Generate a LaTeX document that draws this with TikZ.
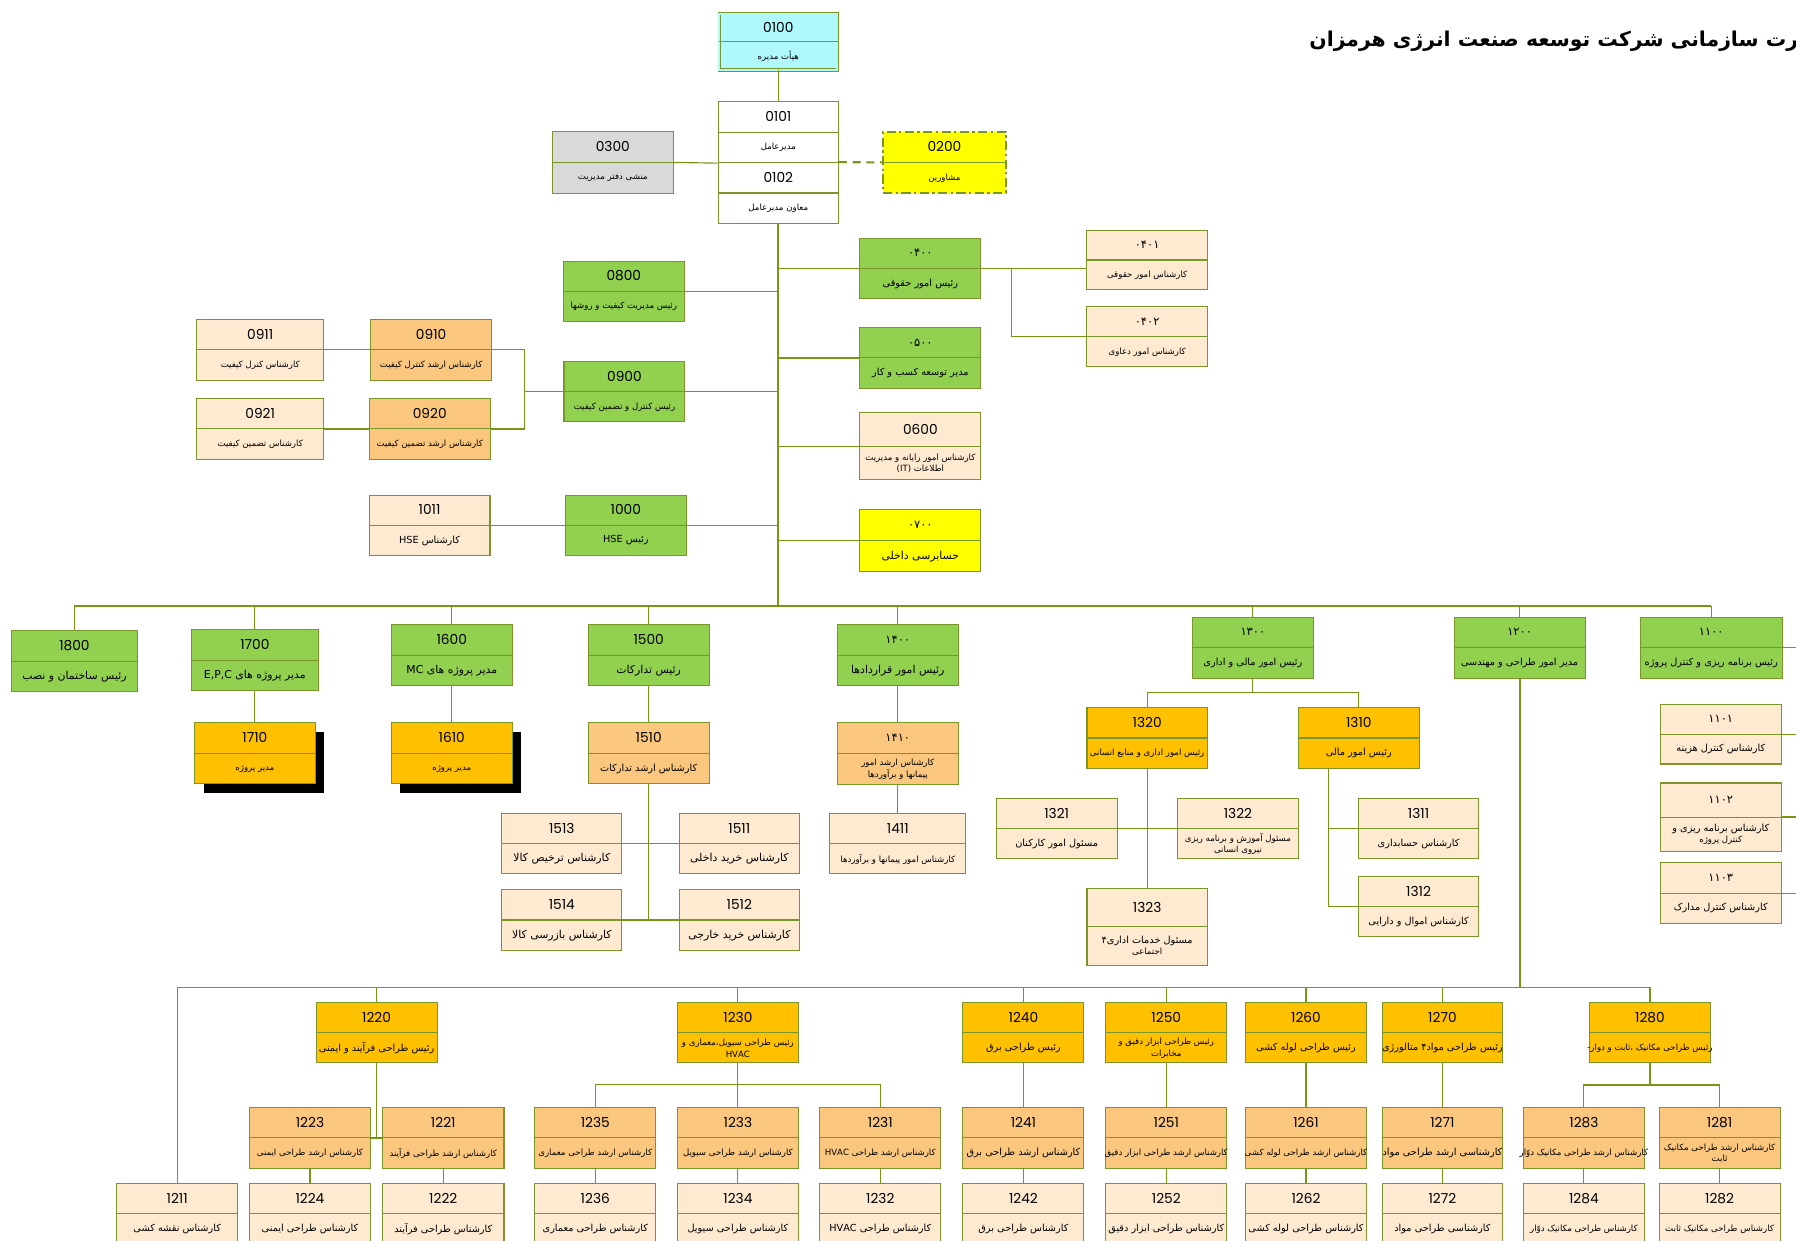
\documentclass[tikz,border=0pt]{standalone}
\usepackage{fontspec}
\usepackage{tikz}
\usetikzlibrary{calc,shadows}
\newfontfamily\fa[Script=Arabic]{DejaVu Sans}
\newfontfamily\numfont{Poppins}
\TeXXeTstate=1

\definecolor{boxedge}{RGB}{122,150,40}
\definecolor{linkgreen}{RGB}{118,150,20}
\definecolor{boxgreen}{RGB}{146,208,80}
\definecolor{boxamber}{RGB}{255,192,0}
\definecolor{boxorange}{RGB}{251,199,126}
\definecolor{boxcream}{RGB}{253,234,209}
\definecolor{boxcyan}{RGB}{175,248,252}
\definecolor{boxgrey}{RGB}{217,217,217}
\definecolor{boxyellow}{RGB}{255,255,0}

\newcommand{\rtl}[1]{\beginR #1\endR}
\newcommand{\facode}[1]{{\fa\fontsize{10}{12}\selectfont #1}}
\newcommand{\bigrole}{\fontsize{9.5}{12}\selectfont}
\newcommand{\midrole}{\fontsize{8.5}{11}\selectfont}
% box with a code on top and a post below
\newcommand{\orgbox}[7][]{%
  \node[unitbox, minimum width=#4, minimum height=#5, #1] (#2) at (#3) {};
  \draw[splitline] (#2.west) -- (#2.east);
  \node[codetext] at ($(#2.center)!0.5!(#2.north)$) {#6};
  \node[roletext] at ($(#2.center)!0.5!(#2.south)$) {#7};
}

\begin{document}
\begin{tikzpicture}[x=1pt, y=-1pt,
  unitbox/.style={draw=boxedge, line width=0.9pt, fill=boxcream, inner sep=0pt},
  splitline/.style={draw=boxedge, line width=0.9pt},
  codetext/.style={font=\numfont\fontsize{12}{14}\selectfont, inner sep=0pt},
  roletext/.style={font=\fa\fontsize{7.5}{10}\selectfont, align=center, inner sep=0pt},
  link/.style={draw=linkgreen, line width=1pt},
  bus/.style={draw=linkgreen, line width=1.6pt},
  headfill/.style={fill=boxgreen},
  leadfill/.style={fill=boxamber},
  seniorfill/.style={fill=boxorange},
  advisor/.style={dash pattern=on 8pt off 3pt on 2pt off 3pt, line width=1.6pt},
  pshadow/.style={drop shadow={shadow xshift=8pt, shadow yshift=-8pt, fill=black, opacity=1}}]
  \useasboundingbox (0,0) rectangle (1568,1083);

  % title
  \node[font=\fa\bfseries\fontsize{17.8}{21}\selectfont, anchor=east, inner sep=0pt] (title) at (1570,36) {\rtl{رت سازمانی شرکت توسعه صنعت انرژی هرمزان}};

  % board and management
  \orgbox[fill=boxcyan, double=boxcyan, double distance=1.6pt, line width=0.7pt]{b0100}{679.5,36.5}{103}{49}{0100}{\rtl{هیأت مدیره}}
  \orgbox[fill=white]{b0101}{679.5,115.5}{105}{53}{0101}{\rtl{مدیرعامل}}
  \orgbox[fill=white]{b0102}{679.5,168.5}{105}{53}{0102}{\rtl{معاون مدیرعامل}}
  \orgbox[fill=boxgrey]{b0300}{535,141.8}{106}{53.5}{0300}{\rtl{منشی دفتر مدیریت}}
  \orgbox[fill=boxyellow, advisor]{b0200}{824.5,141.8}{107}{53}{0200}{\rtl{مشاورین}}

  % units on the trunk
  \orgbox[headfill]{b0800}{544.6,254.2}{106}{52.6}{0800}{\rtl{رئیس مدیریت کیفیت و روشها}}
  \orgbox[headfill]{b0900}{545.2,341.7}{105.6}{53}{0900}{\rtl{رئیس کنترل و تضمین کیفیت}}
  \orgbox[seniorfill]{b0910}{376.4,305.3}{105.6}{53}{0910}{\rtl{کارشناس ارشد کنترل کیفیت}}
  \orgbox{b0911}{227.2,305.3}{111.2}{53}{0911}{\rtl{کارشناس کنرل کیفیت}}
  \orgbox[seniorfill]{b0920}{375.2,374.5}{105.3}{53}{0920}{\rtl{کارشناس ارشد تضمین کیفیت}}
  \orgbox{b0921}{227.2,374.5}{111.2}{53}{0921}{\rtl{کارشناس تضمین کیفیت}}
  \orgbox[headfill]{b1000}{546.4,458.5}{105.3}{52.6}{1000}{\midrole\rtl{رئیس HSE}}
  \orgbox{b1011}{375,458.5}{105.6}{52.6}{1011}{\midrole\rtl{کارشناس HSE}}
  \orgbox[headfill]{b0400}{803.5,234.5}{105.5}{53}{\facode{۰۴۰۰}}{\midrole\rtl{رئیس امور حقوقی}}
  \orgbox{b0401}{1001.5,227}{105.5}{52}{\facode{۰۴۰۱}}{\rtl{کارشناس امور حقوقی}}
  \orgbox{b0402}{1001.5,294}{105.5}{52}{\facode{۰۴۰۲}}{\rtl{کارشناس امور دعاوی}}
  \orgbox[headfill]{b0500}{803.5,312.5}{105.5}{53}{\facode{۰۵۰۰}}{\midrole\rtl{مدیر توسعه کسب و کار}}
  \orgbox{b0600}{803.5,389.5}{105.5}{59}{0600}{\rtl{کارشناس امور رایانه و مدیریت}\\\rtl{اطلاعات (IT)}}
  \orgbox[fill=boxyellow]{b0700}{803.5,472}{105.5}{54}{\facode{۰۷۰۰}}{\bigrole\rtl{حسابرسی داخلی}}

  % departments
  \orgbox[headfill]{b1800}{65,577.3}{110.5}{53}{1800}{\bigrole\rtl{رئیس ساختمان و نصب}}
  \orgbox[headfill]{b1700}{222.5,576.5}{111}{53}{1700}{\bigrole\rtl{مدیر پروژه های E,P,C}}
  \orgbox[leadfill, pshadow]{b1710}{222.5,657.5}{105.6}{53}{1710}{\rtl{مدیر پروژه}}
  \orgbox[headfill]{b1600}{394.4,572}{105.6}{53.6}{1600}{\bigrole\rtl{مدیر پروژه های MC}}
  \orgbox[leadfill, pshadow]{b1610}{394.4,657.5}{105.6}{53}{1610}{\rtl{مدیر پروژه}}
  \orgbox[headfill]{b1500}{566.3,572}{105.4}{53.6}{1500}{\bigrole\rtl{رئیس تدارکات}}
  \orgbox[seniorfill]{b1510}{566.3,657.5}{105.4}{53}{1510}{\midrole\rtl{کارشناس ارشد تدارکات}}
  \orgbox{b1513}{490.5,736.7}{105}{52.6}{1513}{\bigrole\rtl{کارشناس ترخیص کالا}}
  \orgbox{b1511}{645.5,736.7}{105}{52.6}{1511}{\bigrole\rtl{کارشناس خرید داخلی}}
  \orgbox{b1514}{490.5,803.2}{105}{53}{1514}{\bigrole\rtl{کارشناس بازرسی کالا}}
  \orgbox{b1512}{645.5,803.2}{105}{53}{1512}{\bigrole\rtl{کارشناس خرید خارجی}}
  \orgbox[headfill]{b1400}{783.8,572}{106}{53.2}{\facode{۱۴۰۰}}{\bigrole\rtl{رئیس امور قراردادها}}
  \orgbox[seniorfill]{b1410}{783.8,657.9}{106}{53.8}{\facode{۱۴۱۰}}{\rtl{کارشناس ارشد امور}\\\rtl{پیمانها و برآوردها}}
  \orgbox{b1411}{783.8,736.5}{119}{53}{1411}{\rtl{کارشناس امور پیمانها و برآوردها}}
  \orgbox[headfill]{b1300}{1093.8,565.5}{106}{53}{\facode{۱۳۰۰}}{\midrole\rtl{رئیس امور مالی و اداری}}
  \orgbox[leadfill]{b1320}{1001.5,644.3}{105}{53}{1320}{\rtl{رئیس امور اداری و منابع انسانی}}
  \orgbox[leadfill]{b1310}{1186.3,644.3}{105.4}{53}{1310}{\midrole\rtl{رئیس امور مالی}}
  \orgbox{b1321}{922.5,723.5}{105.4}{52.4}{1321}{\midrole\rtl{مسئول امور کارکنان}}
  \orgbox{b1322}{1080.8,723.5}{105.6}{52.4}{1322}{\rtl{مسئول آموزش و برنامه ریزی}\\\rtl{نیروی انسانی}}
  \orgbox{b1323}{1001.5,809.2}{105}{66.6}{1323}{\midrole\rtl{مسئول خدمات اداری۴}\\\rtl{اجتماعی}}
  \orgbox{b1311}{1238.5,723.5}{105}{52.4}{1311}{\midrole\rtl{کارشناس حسابداری}}
  \orgbox{b1312}{1238.5,791.4}{105}{52.8}{1312}{\midrole\rtl{کارشناس اموال و دارایی}}
  \orgbox[headfill]{b1200}{1326.7,565.5}{114.3}{53}{\facode{۱۲۰۰}}{\midrole\rtl{مدیر امور طراحی و مهندسی}}
  \orgbox[headfill]{b1100}{1494,565.5}{123.7}{53}{\facode{۱۱۰۰}}{\midrole\rtl{رئیس برنامه ریزی و کنترل پروژه}}
  \orgbox{b1101}{1502.3,641}{106}{52}{\facode{۱۱۰۱}}{\midrole\rtl{کارشناس کنترل هزینه}}
  \orgbox{b1102}{1502.3,713.3}{106}{59.4}{\facode{۱۱۰۲}}{\midrole\rtl{کارشناس برنامه ریزی و}\\\rtl{کنترل پروژه}}
  \orgbox{b1103}{1502.3,779.7}{106}{52.6}{\facode{۱۱۰۳}}{\midrole\rtl{کارشناس کنترل مدارک}}

  % design groups
  \orgbox[leadfill]{b1220}{328.8,901.7}{105.6}{52.6}{1220}{\midrole\rtl{رئیس طراحی فرآیند و ایمنی}}
  \orgbox[leadfill]{b1230}{644.2,901.7}{105.7}{52.6}{1230}{\rtl{رئیس طراحی سیویل،معماری و}\\\rtl{HVAC}}
  \orgbox[leadfill]{b1240}{893.5,901.7}{105.7}{52.6}{1240}{\midrole\rtl{رئیس طراحی برق}}
  \orgbox[leadfill]{b1250}{1018.2,901.7}{105.6}{52.6}{1250}{\rtl{رئیس طراحی ابزار دقیق و}\\\rtl{مخابرات}}
  \orgbox[leadfill]{b1260}{1140.2,901.7}{105.7}{52.6}{1260}{\midrole\rtl{رئیس طراحی لوله کشی}}
  \orgbox[leadfill]{b1270}{1259.3,901.7}{105.4}{52.6}{1270}{\midrole\rtl{رئیس طراحی مواد۴ متالورژی}}
  \orgbox[leadfill]{b1280}{1440.5,901.7}{106}{52.6}{1280}{\rtl{رئیس طراحی مکانیک ،ثابت و دوار-}}

  \orgbox[seniorfill]{b1223}{270.6,993.5}{106}{53}{1223}{\rtl{کارشناس ارشد طراحی  ایمنی}}
  \orgbox[seniorfill]{b1221}{387,993.5}{106}{53}{1221}{\rtl{کارشناس ارشد طراحی فرآیند}}
  \orgbox[seniorfill]{b1235}{519.7,993.5}{105.3}{53}{1235}{\rtl{کارشناس ارشد طراحی  معماری}}
  \orgbox[seniorfill]{b1233}{644.2,993.5}{105.7}{53}{1233}{\rtl{کارشناس ارشد طراحی سیویل}}
  \orgbox[seniorfill]{b1231}{768.5,993.5}{105.4}{53}{1231}{\rtl{کارشناس ارشد طراحی HVAC}}
  \orgbox[seniorfill]{b1241}{893.5,993.5}{105.7}{53}{1241}{\midrole\rtl{کارشناس ارشد طراحی برق}}
  \orgbox[seniorfill]{b1251}{1018.2,993.5}{105.6}{53}{1251}{\rtl{کارشناس ارشد طراحی ابزار دقیق}}
  \orgbox[seniorfill]{b1261}{1140.2,993.5}{105.7}{53}{1261}{\rtl{کارشناس ارشد طراحی لوله کشی}}
  \orgbox[seniorfill]{b1271}{1259.3,993.5}{105.4}{53}{1271}{\midrole\rtl{کارشناسی ارشد طراحی مواد}}
  \orgbox[seniorfill]{b1283}{1382.8,993.5}{105.5}{53}{1283}{\rtl{کارشناس ارشد طراحی مکانیک دوّار}}
  \orgbox[seniorfill]{b1281}{1501.3,993.5}{105.5}{53}{1281}{\rtl{کارشناس ارشد طراحی مکانیک}\\\rtl{ثابت}}

  \orgbox{b1211}{154.7,1059.5}{105.7}{53}{1211}{\midrole\rtl{کارشناس نقشه کشی}}
  \orgbox{b1224}{270.6,1059.5}{106}{53}{1224}{\midrole\rtl{کارشناس طراحی ایمنی}}
  \orgbox{b1222}{387,1059.5}{106}{53}{1222}{\midrole\rtl{کارشناس طراحی فرآیند}}
  \orgbox{b1236}{519.7,1059.5}{105.3}{53}{1236}{\midrole\rtl{کارشناس طراحی معماری}}
  \orgbox{b1234}{644.2,1059.5}{105.7}{53}{1234}{\midrole\rtl{کارشناس طراحی سیویل}}
  \orgbox{b1232}{768.5,1059.5}{105.4}{53}{1232}{\midrole\rtl{کارشناس طراحی HVAC}}
  \orgbox{b1242}{893.5,1059.5}{105.7}{53}{1242}{\midrole\rtl{کارشناس طراحی برق}}
  \orgbox{b1252}{1018.2,1059.5}{105.6}{53}{1252}{\midrole\rtl{کارشناس طراحی ابزار دقیق}}
  \orgbox{b1262}{1140.2,1059.5}{105.7}{53}{1262}{\midrole\rtl{کارشناس طراحی لوله کشی}}
  \orgbox{b1272}{1259.3,1059.5}{105.4}{53}{1272}{\midrole\rtl{کارشناسی طراحی مواد}}
  \orgbox{b1284}{1382.8,1059.5}{105.5}{53}{1284}{\rtl{کارشناس طراحی مکانیک دوّار}}
  \orgbox{b1282}{1501.3,1059.5}{105.5}{53}{1282}{\rtl{کارشناس طراحی مکانیک ثابت}}

  % Draw the links
  \coordinate (bus) at (679.5,528.8);
  \coordinate (lowbus) at (1326.7,862);
  \coordinate (edge) at (1568,0);
  \draw[link] (b0100.south) -- (b0101.north);
  \draw[link] (b0300.east) -- (b0101.south west);
  \draw[linkgreen, dash pattern=on 7pt off 5pt, line width=1.8pt] (b0102.north east) -- (b0200.west);
  \draw[bus] (b0102.south) -- (bus);
  \foreach \n in {0800,0900,1000} \draw[link] (b\n.east) -- (b\n.east -| bus);
  \foreach \n in {0400,0500,0600,0700} \draw[link] (b\n.west) -- (b\n.west -| bus);

  \coordinate (j0400) at (883,234.5);
  \draw[link] (b0400.east) -- (b0400.east -| b0401.west);
  \draw[link] (j0400) |- (b0402.west);
  \coordinate (j0900) at (457.8,341.7);
  \draw[link] (b0900.west) -- (j0900);
  \draw[link] (b0910.east) -| (j0900);
  \draw[link] (b0920.east) -| (j0900);
  \draw[link] (b0911.east) -- (b0910.west);
  \draw[link] (b0921.east) -- (b0920.west);
  \draw[link] (b1011.east) -- (b1000.west);

  \draw[bus] (b1800.north |- bus) -- (b1100.north |- bus);
  \foreach \n in {1800,1700,1600,1500,1400,1300,1200,1100} \draw[link] (b\n.north |- bus) -- (b\n.north);
  \draw[link] (b1700.south) -- (b1710.north);
  \draw[link] (b1600.south) -- (b1610.north);
  \draw[link] (b1500.south) -- (b1510.north);
  \coordinate (j1510) at (566.3,803.2);
  \draw[link] (b1510.south) -- (j1510);
  \draw[link] (b1513.east) -- (b1511.west);
  \draw[link] (b1514.east) -- (b1512.west);
  \draw[link] (b1400.south) -- (b1410.north);
  \draw[link] (b1410.south) -- (b1411.north);
  \coordinate (j1300) at (1093.8,604.7);
  \draw[link] (b1300.south) -- (j1300);
  \draw[link] (b1320.north) |- (j1300) -| (b1310.north);
  \draw[link] (b1320.south) -- (b1323.north);
  \draw[link] (b1321.east) -- (b1322.west);
  \coordinate (j1310) at (1160,791.4);
  \draw[link] (j1310 |- b1310.south) -- (j1310) -- (b1312.west);
  \draw[link] (b1311.west) -- (b1311.west -| j1310);
  \foreach \n in {1100,1101,1102,1103} \draw[link] (b\n.east) -- (b\n.east -| edge);

  \draw[bus] (b1200.south) -- (lowbus);
  \draw[link] (b1211.north |- lowbus) -- (b1280.north |- lowbus);
  \foreach \n in {1211,1220,1230,1240,1250,1260,1270,1280} \draw[link] (b\n.north |- lowbus) -- (b\n.north);
  \coordinate (j1220) at (328.8,993.5);
  \draw[link] (b1220.south) -- (j1220);
  \draw[link] (b1223.east) -- (b1221.west);
  \coordinate (j1230) at (644.2,946.5);
  \draw[link] (b1230.south) -- (j1230);
  \draw[link] (b1235.north) |- (j1230) -| (b1231.north);
  \draw[link] (j1230) -- (b1233.north);
  \coordinate (j1280) at (1440.5,947.3);
  \draw[link] (b1280.south) -- (j1280);
  \draw[link] (b1283.north) |- (j1280) -| (b1281.north);
  \foreach \a/\b in {1223/1224,1221/1222,1235/1236,1233/1234,1231/1232,1240/1241,1241/1242,1250/1251,1251/1252,1260/1261,1261/1262,1270/1271,1271/1272,1283/1284,1281/1282}
    \draw[link] (b\a.south) -- (b\b.north);
\end{tikzpicture}
\end{document}
